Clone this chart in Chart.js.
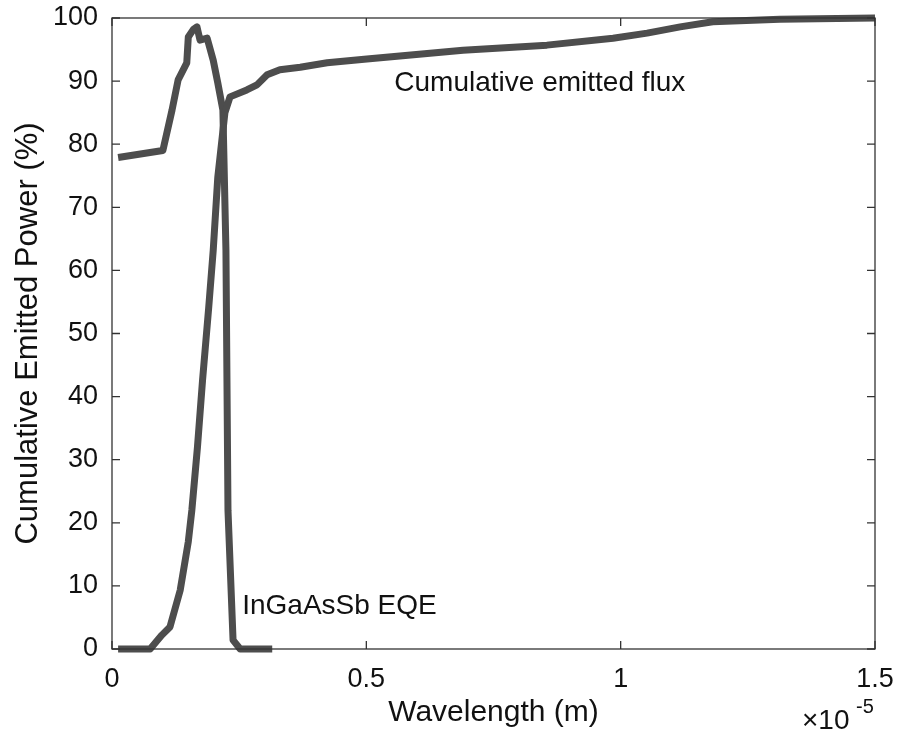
<!DOCTYPE html>
<html>
<head>
<meta charset="utf-8">
<script src="https://cdn.jsdelivr.net/npm/chart.js@4/dist/chart.umd.min.js"></script>
<style>
  body { margin: 0; background: #fff; }
  #wrap { width: 897px; height: 734px; position: relative; }
</style>
</head>
<body>
<div id="wrap"><canvas id="chart"></canvas></div>
<script>
// wavelength in units of 1e-5 m
const fluxWl  = [0.012, 0.075, 0.098, 0.114, 0.134, 0.150, 0.157, 0.168, 0.178, 0.190, 0.199, 0.208, 0.222, 0.232, 0.265, 0.285, 0.305, 0.330, 0.370, 0.423, 0.501, 0.690, 0.855, 0.985, 1.052, 1.117, 1.181, 1.313, 1.500];
const fluxPct = [0, 0, 2.2, 3.5, 9.3, 17, 22, 32, 42.6, 54, 63.2, 74.8, 85, 87.5, 88.6, 89.4, 91, 91.8, 92.2, 92.9, 93.5, 94.9, 95.7, 96.8, 97.6, 98.6, 99.4, 99.8, 100];

const eqeWl  = [0.012, 0.100, 0.118, 0.130, 0.147, 0.150, 0.160, 0.167, 0.173, 0.187, 0.199, 0.208, 0.218, 0.224, 0.228, 0.238, 0.252, 0.315];
const eqePct = [77.9, 79.0, 85.4, 90.2, 92.9, 97, 98.2, 98.6, 96.5, 96.8, 93.3, 89.7, 85.4, 63.2, 22, 1.4, 0, 0];

const xTicks = [0, 0.5, 1, 1.5];
const yTicks = [0, 10, 20, 30, 40, 50, 60, 70, 80, 90, 100];

const labels = [
  { text: "Cumulative emitted flux", x: 0.555, y: 89.6 },
  { text: "InGaAsSb EQE", x: 0.256, y: 6.7 }
];

const FONT = "'Liberation Sans', Arial, Helvetica, sans-serif";
const LINE = "#4d4d4d";

const toPts = (xs, ys) => xs.map((x, i) => ({ x: x, y: ys[i] }));

// MATLAB-like box with inward ticks, plus text annotations
const boxPlugin = {
  id: "box",
  afterDraw(chart) {
    const { ctx, chartArea: a, scales } = chart;
    ctx.save();
    ctx.strokeStyle = "#333";
    ctx.lineWidth = 1.3;
    ctx.strokeRect(a.left, a.top, a.right - a.left, a.bottom - a.top);
    ctx.beginPath();
    xTicks.forEach(v => {
      const px = scales.x.getPixelForValue(v);
      ctx.moveTo(px, a.bottom); ctx.lineTo(px, a.bottom - 8);
      ctx.moveTo(px, a.top); ctx.lineTo(px, a.top + 8);
    });
    yTicks.forEach(v => {
      const py = scales.y.getPixelForValue(v);
      ctx.moveTo(a.left, py); ctx.lineTo(a.left + 8, py);
      ctx.moveTo(a.right, py); ctx.lineTo(a.right - 8, py);
    });
    ctx.stroke();

    ctx.fillStyle = "#111";
    ctx.textBaseline = "middle";
    ctx.textAlign = "left";
    ctx.font = "28px " + FONT;
    labels.forEach(l => {
      ctx.fillText(l.text, scales.x.getPixelForValue(l.x), scales.y.getPixelForValue(l.y));
    });

    // exponent marker
    ctx.font = "28px " + FONT;
    ctx.fillText("\u00d710", 802, 721);
    ctx.font = "20px " + FONT;
    ctx.fillText("-5", 856, 707);
    ctx.restore();
  }
};

new Chart(document.getElementById("chart"), {
  type: "line",
  data: {
    datasets: [
      { label: "Cumulative emitted flux", data: toPts(fluxWl, fluxPct) },
      { label: "InGaAsSb EQE", data: toPts(eqeWl, eqePct) }
    ]
  },
  options: {
    responsive: true,
    maintainAspectRatio: false,
    animation: false,
    devicePixelRatio: 1,
    layout: { padding: { left: 0, right: 22, top: 18, bottom: 0 } },
    elements: {
      point: { radius: 0 },
      line: { borderColor: LINE, borderWidth: 7, tension: 0, borderJoinStyle: "round", borderCapStyle: "butt" }
    },
    datasets: { line: { clip: 8 } },
    plugins: { legend: { display: false }, tooltip: { enabled: false } },
    scales: {
      x: {
        type: "linear",
        min: 0, max: 1.5,
        afterFit(s) { s.height = 85; s.paddingLeft = 0; s.paddingRight = 0; },
        afterBuildTicks(s) { s.ticks = xTicks.map(v => ({ value: v })); },
        grid: { display: false, drawTicks: false },
        border: { display: false },
        ticks: { color: "#111", padding: 14, font: { family: FONT, size: 27 }, callback: v => String(v) },
        title: { display: true, text: "Wavelength (m)", color: "#111", padding: { top: 0, bottom: 3 }, font: { family: FONT, size: 30 } }
      },
      y: {
        min: 0, max: 100,
        afterFit(s) { s.width = 112; s.paddingTop = 0; s.paddingBottom = 0; },
        afterBuildTicks(s) { s.ticks = yTicks.map(v => ({ value: v })); },
        grid: { display: false, drawTicks: false },
        border: { display: false },
        ticks: { color: "#111", padding: 14, font: { family: FONT, size: 27 } },
        title: { display: true, text: "Cumulative Emitted Power (%)", color: "#111", padding: { top: 10, bottom: 0 }, font: { family: FONT, size: 31 } }
      }
    }
  },
  plugins: [boxPlugin]
});
</script>
</body>
</html>
